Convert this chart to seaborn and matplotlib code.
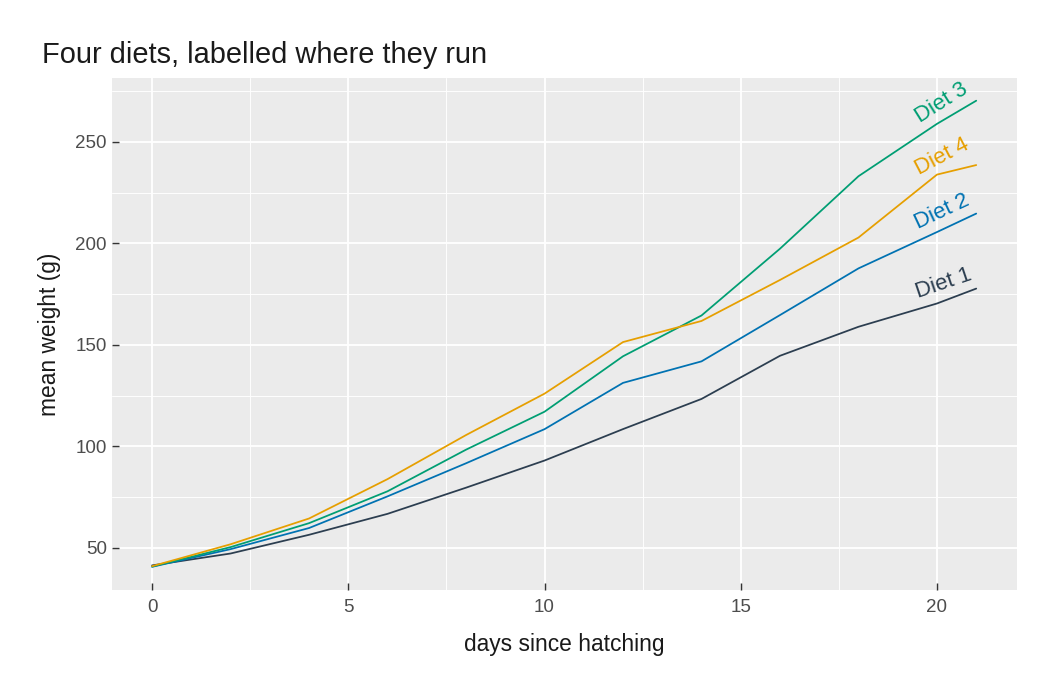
import numpy as np
import pandas as pd
import matplotlib
matplotlib.use("Agg")
import matplotlib.pyplot as plt
import seaborn as sns

# mean weights per diet (ChickWeight)
days = [0, 2, 4, 6, 8, 10, 12, 14, 16, 18, 20, 21]
diet1 = [41.4, 47.25, 56.47, 66.79, 79.68, 93.05, 108.53, 123.39, 144.65, 158.94, 170.41, 177.75]
diet2 = [40.7, 49.4, 59.8, 75.4, 91.7, 108.5, 131.3, 141.9, 164.7, 187.7, 205.6, 214.7]
diet3 = [40.8, 50.4, 62.2, 77.9, 98.4, 117.1, 144.4, 164.5, 197.4, 233.1, 258.9, 270.3]
diet4 = [41.0, 51.8, 64.5, 83.9, 105.6, 126.0, 151.4, 161.8, 182.0, 202.9, 233.9, 238.6]
diet_names = ["Diet 1", "Diet 2", "Diet 3", "Diet 4"]
colors = {"Diet 1": "#2c3e50", "Diet 2": "#0072B2", "Diet 3": "#009E73", "Diet 4": "#E69F00"}

series = dict(zip(diet_names, [diet1, diet2, diet3, diet4]))
df = pd.concat([pd.DataFrame({"day": days, "weight": v, "diet": k}) for k, v in series.items()])

sns.set_style("darkgrid", {"axes.facecolor": "#EBEBEB", "grid.color": "white"})
plt.rcParams["font.family"] = ["Liberation Sans", "DejaVu Sans"]

fig, ax = plt.subplots(figsize=(7, 4.6), dpi=150)
fig.subplots_adjust(left=0.1067, right=0.9686, top=0.887, bottom=0.145)

sns.lineplot(data=df, x="day", y="weight", hue="diet", palette=colors,
             linewidth=0.85, legend=False, ax=ax)

ax.set_xlim(-1.02, 22.04)
ax.set_ylim(29.3, 281.5)
ax.set_xticks([0, 5, 10, 15, 20])
ax.set_yticks([50, 100, 150, 200, 250])
ax.set_xticks([2.5, 7.5, 12.5, 17.5], minor=True)
ax.set_yticks([75, 125, 175, 225, 275], minor=True)
ax.grid(which="major", color="white", linewidth=0.9)
ax.grid(which="minor", color="white", linewidth=0.45)
for s in ax.spines.values():
    s.set_visible(False)
ax.tick_params(which="major", bottom=True, left=True, direction="in", length=3.5,
               width=0.7, color="#333333", labelsize=9, labelcolor="#4d4d4d", pad=2.5)
ax.tick_params(axis="x", which="major", pad=4.5)
ax.tick_params(which="minor", bottom=False, left=False, length=0)

ax.set_xlabel("days since hatching", fontsize=10.9, color="#1a1a1a", labelpad=8)
ax.set_ylabel("mean weight (g)", fontsize=10.9, color="#1a1a1a", labelpad=7)
fig.text(0.04, 0.909, "Four diets, labelled where they run", fontsize=13.9, color="#1a1a1a",
         ha="left", va="baseline")

# labels along the end of each line
fig.canvas.draw()
for name, vals in series.items():
    x0 = 20.25
    y0 = np.interp(x0, days, vals)
    p1 = ax.transData.transform((19, np.interp(19, days, vals)))
    p2 = ax.transData.transform((21, vals[-1]))
    ang = np.degrees(np.arctan2(p2[1] - p1[1], p2[0] - p1[0]))
    ax.annotate(name, (x0, y0), xytext=(0, 3), textcoords="offset points",
                rotation=ang, rotation_mode="anchor", ha="center", va="bottom",
                fontsize=10.6, color=colors[name])

fig.savefig("out.png", dpi=150)
